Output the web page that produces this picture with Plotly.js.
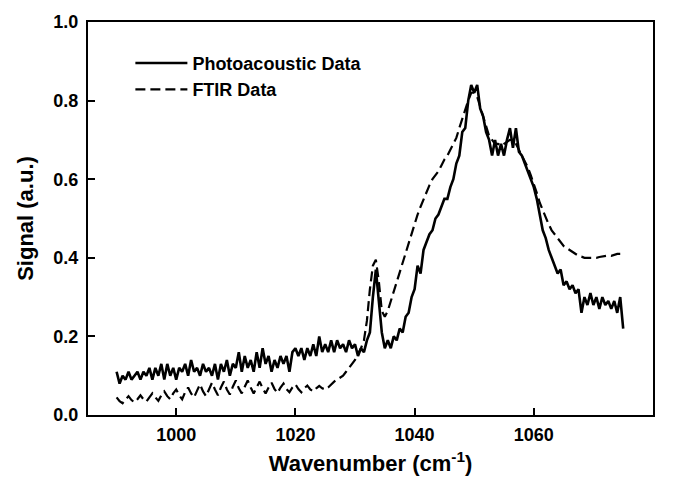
<!DOCTYPE html>
<html>
<head>
<meta charset="utf-8">
<script src="https://cdn.plot.ly/plotly-3.0.1.min.js"></script>
<style>html,body{margin:0;padding:0;background:#fff;}#chart{width:673px;height:483px;}</style>
</head>
<body>
<div id="chart"></div>
<script>
// Wavenumber grid (cm-1) read at 0.5 cm-1 steps
const paStart = 990, paStep = 0.5;
const ftirStart = 990, ftirStep = 0.5;

// Photoacoustic signal, 990.0 ... 1075.0 (10 values per row = 5 cm-1)
const photoacoustic = [
  0.11,0.08,0.10,0.09,0.11,0.09,0.10,0.11,0.09,0.11,
  0.10,0.12,0.09,0.12,0.10,0.13,0.09,0.13,0.10,0.12,
  0.09,0.12,0.11,0.13,0.10,0.14,0.11,0.12,0.10,0.13,
  0.11,0.12,0.10,0.13,0.09,0.13,0.11,0.14,0.10,0.13,
  0.12,0.16,0.11,0.15,0.12,0.14,0.11,0.16,0.12,0.17,
  0.13,0.15,0.11,0.14,0.12,0.15,0.13,0.15,0.11,0.16,
  0.17,0.15,0.17,0.14,0.17,0.15,0.18,0.15,0.20,0.16,
  0.18,0.16,0.19,0.16,0.19,0.17,0.18,0.16,0.19,0.17,
  0.18,0.15,0.17,0.16,0.19,0.21,0.30,0.37,0.29,0.21,
  0.17,0.19,0.17,0.20,0.19,0.22,0.21,0.25,0.26,0.30,
  0.32,0.38,0.36,0.42,0.44,0.46,0.47,0.50,0.51,0.53,
  0.55,0.55,0.58,0.60,0.64,0.66,0.72,0.73,0.80,0.84,
  0.82,0.84,0.78,0.76,0.72,0.70,0.66,0.70,0.66,0.69,
  0.66,0.70,0.73,0.68,0.73,0.67,0.66,0.64,0.62,0.60,
  0.58,0.55,0.51,0.47,0.45,0.42,0.40,0.38,0.36,0.37,
  0.33,0.34,0.32,0.33,0.31,0.32,0.26,0.30,0.28,0.31,
  0.28,0.30,0.27,0.30,0.28,0.29,0.27,0.29,0.26,0.30,
  0.22
];

// FTIR signal, 990.0 ... 1074.5
const ftir = [
  0.045,0.035,0.030,0.040,0.048,0.038,0.032,0.040,0.050,0.040,
  0.034,0.045,0.055,0.045,0.036,0.050,0.060,0.048,0.040,0.055,
  0.065,0.050,0.040,0.058,0.070,0.055,0.045,0.062,0.078,0.060,
  0.048,0.065,0.082,0.065,0.050,0.070,0.085,0.065,0.052,0.072,
  0.088,0.068,0.055,0.072,0.088,0.070,0.055,0.070,0.085,0.068,
  0.055,0.070,0.082,0.066,0.056,0.070,0.080,0.066,0.058,0.070,
  0.078,0.066,0.058,0.068,0.075,0.065,0.060,0.068,0.074,0.068,
  0.065,0.070,0.078,0.085,0.090,0.095,0.100,0.110,0.120,0.130,
  0.140,0.155,0.170,0.190,0.240,0.320,0.380,0.395,0.340,0.265,
  0.250,0.265,0.290,0.315,0.340,0.365,0.390,0.415,0.440,0.465,
  0.490,0.510,0.530,0.550,0.570,0.585,0.600,0.610,0.620,0.635,
  0.650,0.660,0.675,0.690,0.705,0.730,0.755,0.780,0.800,0.820,
  0.820,0.810,0.785,0.755,0.730,0.710,0.700,0.690,0.690,0.685,
  0.690,0.695,0.700,0.700,0.690,0.675,0.660,0.645,0.630,0.610,
  0.590,0.565,0.540,0.520,0.500,0.485,0.470,0.460,0.450,0.440,
  0.430,0.425,0.420,0.415,0.410,0.405,0.403,0.400,0.400,0.400,
  0.400,0.400,0.402,0.404,0.405,0.406,0.405,0.408,0.410,0.410
];

const xTickVals = [1000, 1020, 1040, 1060, 1080];
const yTickVals = [0.0, 0.2, 0.4, 0.6, 0.8, 1.0];
const seriesNames = ["Photoacoustic Data", "FTIR Data"];

const paX = photoacoustic.map((_, i) => paStart + i * paStep);
const ftirX = ftir.map((_, i) => ftirStart + i * ftirStep);

const FONT = "Liberation Sans, Arial, sans-serif";

const traces = [
  {x: paX, y: photoacoustic, type: "scatter", mode: "lines", name: seriesNames[0],
   line: {color: "#000", width: 2.6}},
  {x: ftirX, y: ftir, type: "scatter", mode: "lines", name: seriesNames[1],
   line: {color: "#000", width: 2.2, dash: "10px,5px"}}
];

const axisCommon = {
  showline: true, linecolor: "#000", linewidth: 2, mirror: true,
  ticks: "inside", ticklen: 7, tickwidth: 2, tickcolor: "#000",
  showgrid: false, zeroline: false,
  tickfont: {family: FONT, size: 18, color: "#000", weight: "bold"}
};

const layout = {
  width: 673, height: 483,
  margin: {l: 88, r: 20, t: 22, b: 68},
  paper_bgcolor: "#fff", plot_bgcolor: "#fff",
  showlegend: true,
  legend: {x: 0.075, y: 0.942, xanchor: "left", yanchor: "top",
    itemwidth: 52,
    bgcolor: "rgba(0,0,0,0)", borderwidth: 0, tracegroupgap: 0,
    font: {family: FONT, size: 18, color: "#000", weight: "bold"}},
  xaxis: Object.assign({}, axisCommon, {
    range: [985.2, 1080], tickvals: xTickVals, ticktext: xTickVals.map(String),
    ticklabelstandoff: 2,
    title: {text: "Wavenumber (cm<sup>-1</sup>)", standoff: 12,
      font: {family: FONT, size: 22, color: "#000", weight: "bold"}}
  }),
  yaxis: Object.assign({}, axisCommon, {
    range: [0, 1], tickvals: yTickVals, ticktext: yTickVals.map(v => v.toFixed(1)),
    ticklabelstandoff: 4,
    title: {text: "Signal (a.u.)", standoff: 14,
      font: {family: FONT, size: 22, color: "#000", weight: "bold"}}
  })
};

Plotly.newPlot("chart", traces, layout, {staticPlot: true, displayModeBar: false});
</script>
</body>
</html>
